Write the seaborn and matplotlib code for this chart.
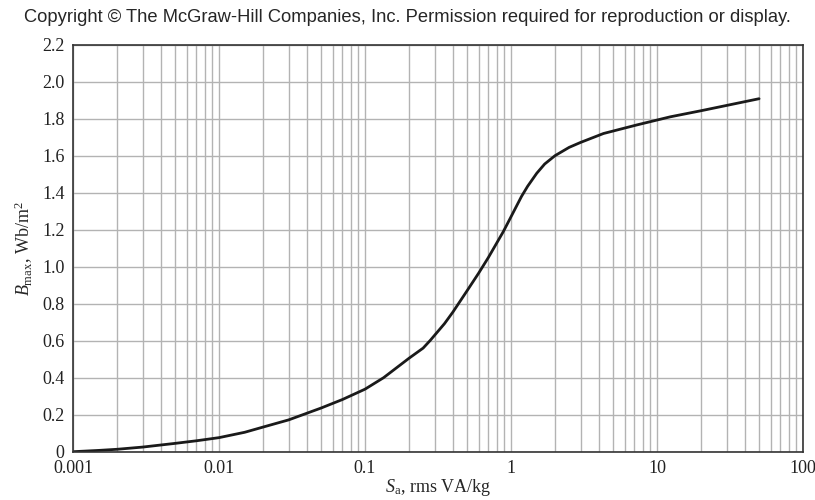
import numpy as np
import pandas as pd
import matplotlib
matplotlib.use("Agg")
import matplotlib.pyplot as plt
import seaborn as sns
from matplotlib.ticker import FixedLocator, FixedFormatter, LogLocator, NullFormatter

# Core loss curve (S_a in VA/kg, B_max in Wb/m^2)
s_a = [0.001, 0.0015, 0.002, 0.003, 0.005, 0.007, 0.01, 0.015, 0.02, 0.03,
       0.05, 0.07, 0.1, 0.134, 0.2, 0.25, 0.28, 0.35, 0.4, 0.5,
       0.6, 0.7, 0.886, 1.0, 1.18, 1.3, 1.5, 1.7, 2.0, 2.5,
       3.0, 4.3, 7.25, 12.3, 20.0, 50.0]
b_max = [0.0, 0.007, 0.013, 0.025, 0.045, 0.059, 0.076, 0.105, 0.133, 0.172,
         0.236, 0.282, 0.338, 0.40, 0.505, 0.56, 0.602, 0.692, 0.755, 0.87,
         0.965, 1.05, 1.19, 1.27, 1.38, 1.435, 1.505, 1.555, 1.60, 1.645,
         1.672, 1.72, 1.766, 1.81, 1.843, 1.908]

x_ticks = [0.001, 0.01, 0.1, 1, 10, 100]
x_labels = ["0.001", "0.01", "0.1", "1", "10", "100"]
y_ticks = [0, 0.2, 0.4, 0.6, 0.8, 1.0, 1.2, 1.4, 1.6, 1.8, 2.0, 2.2]
y_labels = ["0", "0.2", "0.4", "0.6", "0.8", "1.0", "1.2", "1.4", "1.6", "1.8", "2.0", "2.2"]

sns.set_style("white")
plt.rcParams['font.family'] = ['Liberation Serif', 'DejaVu Serif']
plt.rcParams['mathtext.fontset'] = 'custom'
plt.rcParams['mathtext.rm'] = 'Liberation Serif'
plt.rcParams['mathtext.it'] = 'Liberation Serif:italic'

df = pd.DataFrame({"s_a": s_a, "b_max": b_max})

fig = plt.figure(figsize=(8.15, 5), dpi=100)
ax = fig.add_axes([0.0896, 0.0966, 0.8957, 0.814])

ax.set_xscale("log")
ax.set_xlim(0.001, 100)
ax.set_ylim(0, 2.2)

ax.xaxis.set_major_locator(FixedLocator(x_ticks))
ax.xaxis.set_major_formatter(FixedFormatter(x_labels))
ax.xaxis.set_minor_locator(LogLocator(base=10, subs=np.arange(2, 10)))
ax.xaxis.set_minor_formatter(NullFormatter())
ax.yaxis.set_major_locator(FixedLocator(y_ticks))
ax.yaxis.set_major_formatter(FixedFormatter(y_labels))

ax.grid(True, which="both", axis="x", color="#b3b3b3", linewidth=1.0)
ax.grid(True, which="major", axis="y", color="#b3b3b3", linewidth=1.0)
ax.set_axisbelow(True)

sns.lineplot(data=df, x="s_a", y="b_max", ax=ax, color="#1a1a1a", linewidth=2.0)

ax.tick_params(which="both", length=0, labelsize=13, colors="#222222")
ax.tick_params(axis="x", pad=6)
ax.tick_params(axis="y", pad=6)
for lbl in ax.get_yticklabels():
    lbl.set_verticalalignment("center_baseline")
for sp in ax.spines.values():
    sp.set_color("#333333")
    sp.set_linewidth(1.2)

ax.set_xlabel(r"$S_{\rm a}$, rms VA/kg", fontsize=13, labelpad=0)
ax.set_ylabel(r"$B_{\rm max}$, Wb/m$^2$", fontsize=13, labelpad=5)

fig.text(0.5, 0.964, "Copyright \u00a9 The McGraw-Hill Companies, Inc. Permission required for reproduction or display.",
         ha="center", va="center", fontsize=13.2, family=["Liberation Sans", "DejaVu Sans"])

fig.savefig("out.png", dpi=100)
